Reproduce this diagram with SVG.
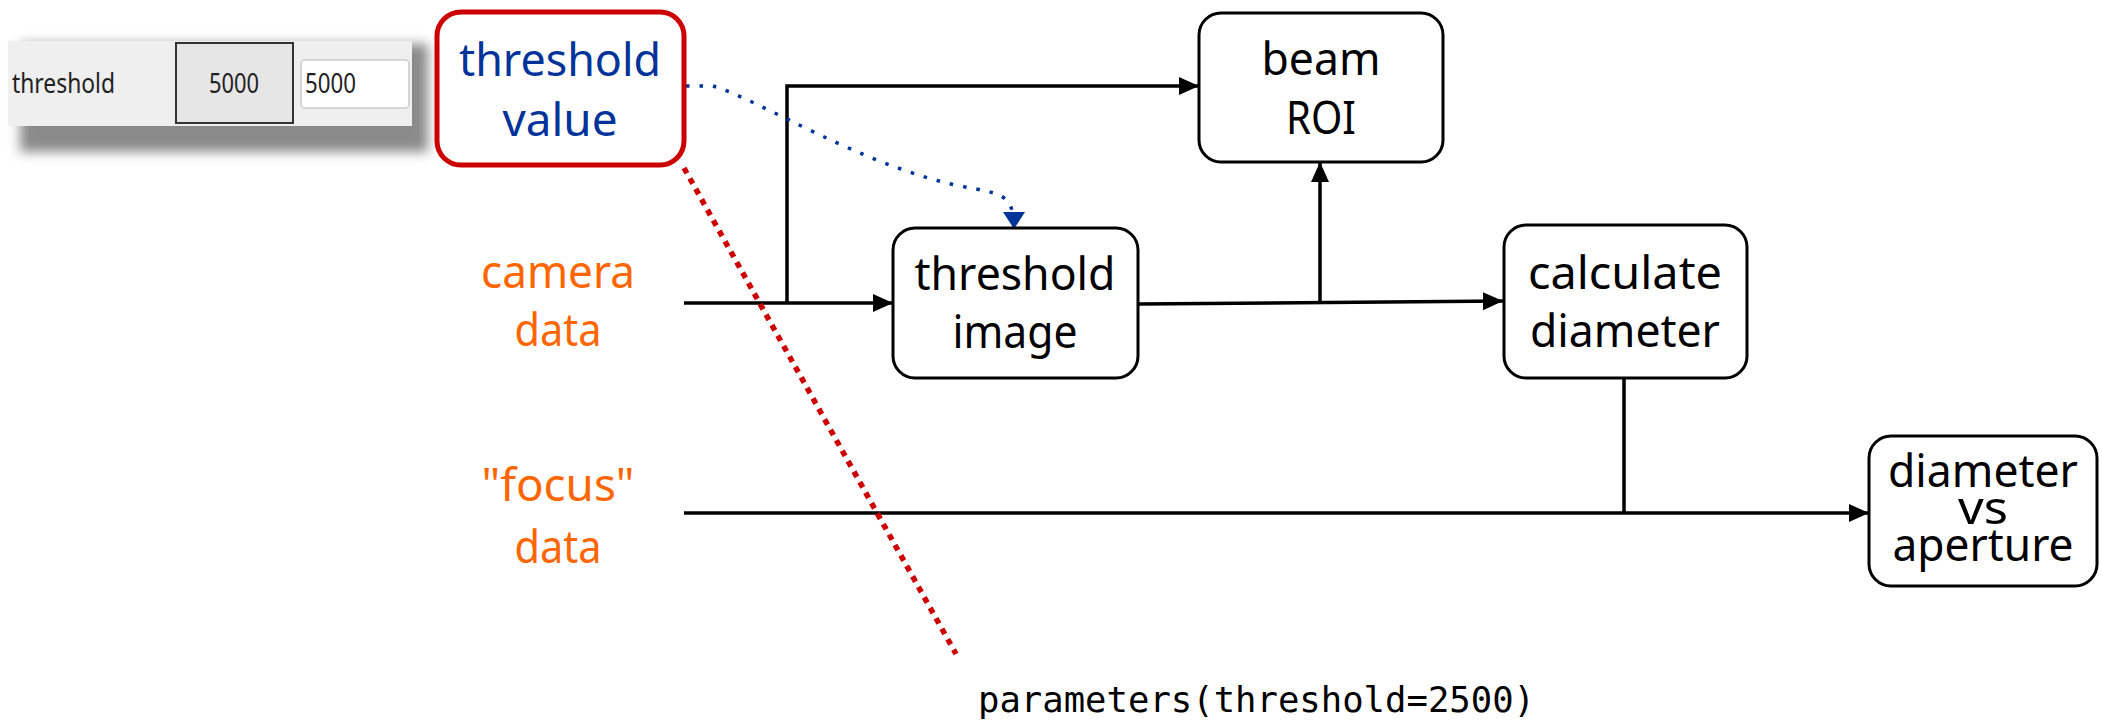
<svg xmlns="http://www.w3.org/2000/svg" width="2102" height="722" viewBox="0 0 2102 722">
<style>
.box{fill:#fff;stroke:#000;stroke-width:3}
.t{font-family:"Noto Sans","Open Sans",sans-serif;font-size:46px;text-anchor:middle;fill:#000}
.blue{fill:#003399}
.orange{fill:#ff6600}
.wire{fill:none;stroke:#000;stroke-width:3.5}
.ui{font-family:"Noto Sans","DejaVu Sans",sans-serif;font-size:27px;fill:#222}
.mono{font-family:"DejaVu Sans Mono","Liberation Mono",monospace;font-size:35px;fill:#000}
</style>
<defs>
<marker id="arr" markerUnits="userSpaceOnUse" markerWidth="22" markerHeight="20" refX="20" refY="9" orient="auto"><path d="M0,0 L20,9 L0,18 z" fill="#000"/></marker>
<marker id="barr" markerUnits="userSpaceOnUse" markerWidth="22" markerHeight="24" refX="17" refY="11" orient="auto"><path d="M0,0 L17,11 L0,22 z" fill="#003399"/></marker>
<filter id="sh" x="-20%" y="-50%" width="140%" height="200%"><feGaussianBlur stdDeviation="6"/></filter>
</defs>
<rect width="2102" height="722" fill="#fff"/>
<g id="widget">
<rect x="20" y="44" width="408" height="108" fill="#8a8a8a" filter="url(#sh)"/>
<rect x="8" y="41" width="404" height="85" fill="#efefef"/>
<text class="ui" x="12" y="93" textLength="103" lengthAdjust="spacingAndGlyphs">threshold</text>
<rect x="176" y="43" width="117" height="80" fill="#e6e6e6" stroke="#333" stroke-width="2"/>
<text class="ui" x="234" y="93" text-anchor="middle" textLength="50" lengthAdjust="spacingAndGlyphs">5000</text>
<rect x="301" y="60" width="108" height="48" rx="4" fill="#fff" stroke="#ccc" stroke-width="1.5"/>
<text class="ui" x="305" y="93" textLength="51" lengthAdjust="spacingAndGlyphs">5000</text>
</g>
<g id="connectors">
<path class="wire" d="M684 303 H893" marker-end="url(#arr)"/>
<path class="wire" d="M787 303 V86 H1199" marker-end="url(#arr)"/>
<path class="wire" d="M1138 304 L1503 301" marker-end="url(#arr)"/>
<path class="wire" d="M1320 302 V162" marker-end="url(#arr)"/>
<path class="wire" d="M684 513 H1869" marker-end="url(#arr)"/>
<path class="wire" d="M1624 378 V513"/>
<path d="M686 86 L713 86 C760 100 860 165 960 186 C1000 194 1014 192 1014 229" fill="none" stroke="#003399" stroke-width="3.5" stroke-dasharray="3.5 10" marker-end="url(#barr)"/>
<path d="M684 168 L956 654" fill="none" stroke="#cc0000" stroke-width="5.5" stroke-dasharray="6 6"/>
</g>
<g id="threshold-value">
<rect x="437" y="12" width="247" height="153" rx="24" fill="#fff" stroke="#cc0000" stroke-width="5"/>
<text class="t blue" x="560" y="76" textLength="202" lengthAdjust="spacingAndGlyphs">threshold</text>
<text class="t blue" x="560" y="136" textLength="115" lengthAdjust="spacingAndGlyphs">value</text>
</g>
<g id="camera-data">
<text class="t orange" x="558" y="288" textLength="154" lengthAdjust="spacingAndGlyphs">camera</text>
<text class="t orange" x="558" y="346" textLength="87" lengthAdjust="spacingAndGlyphs">data</text>
</g>
<g id="focus-data">
<text class="t orange" x="558" y="501" textLength="153" lengthAdjust="spacingAndGlyphs">"focus"</text>
<text class="t orange" x="558" y="563" textLength="87" lengthAdjust="spacingAndGlyphs">data</text>
</g>
<g id="threshold-image">
<rect class="box" x="893" y="228" width="245" height="150" rx="22"/>
<text class="t" x="1015" y="290" textLength="201" lengthAdjust="spacingAndGlyphs">threshold</text>
<text class="t" x="1015" y="348" textLength="125" lengthAdjust="spacingAndGlyphs">image</text>
</g>
<g id="beam-roi">
<rect class="box" x="1199" y="13" width="244" height="149" rx="22"/>
<text class="t" x="1321" y="75" textLength="119" lengthAdjust="spacingAndGlyphs">beam</text>
<text class="t" x="1321" y="134" textLength="70" lengthAdjust="spacingAndGlyphs">ROI</text>
</g>
<g id="calculate-diameter">
<rect class="box" x="1504" y="225" width="243" height="153" rx="22"/>
<text class="t" x="1625" y="289" textLength="194" lengthAdjust="spacingAndGlyphs">calculate</text>
<text class="t" x="1625" y="347" textLength="190" lengthAdjust="spacingAndGlyphs">diameter</text>
</g>
<g id="diameter-vs-aperture">
<rect class="box" x="1869" y="436" width="228" height="150" rx="22"/>
<text class="t" x="1983" y="487" font-size="44" textLength="190" lengthAdjust="spacingAndGlyphs">diameter</text>
<text class="t" x="1983" y="524" font-size="44" textLength="50" lengthAdjust="spacingAndGlyphs">vs</text>
<text class="t" x="1983" y="561" font-size="44" textLength="181" lengthAdjust="spacingAndGlyphs">aperture</text>
</g>
<g id="parameters-label">
<text class="mono" x="978" y="712" textLength="557" lengthAdjust="spacingAndGlyphs">parameters(threshold=2500)</text>
</g>
</svg>
